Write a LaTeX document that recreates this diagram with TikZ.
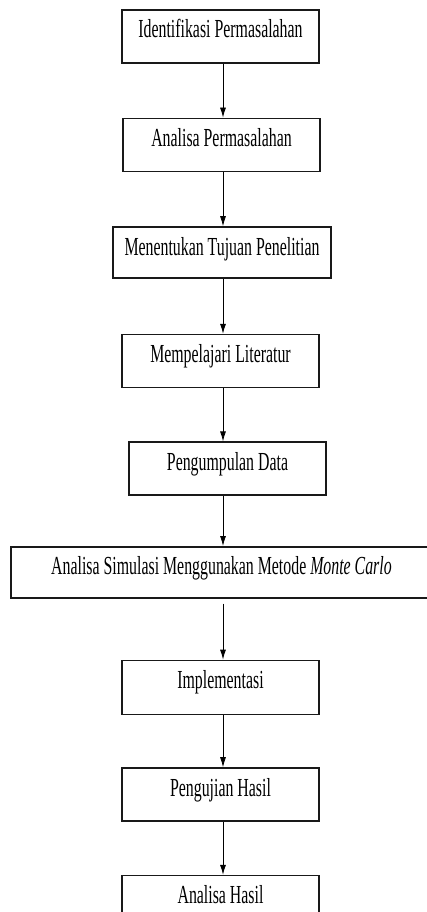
\documentclass[tikz,border=0pt]{standalone}
\usepackage{fontspec}
\setmainfont{Liberation Serif}[FakeStretch=0.61]
\usetikzlibrary{positioning,arrows.meta}

\begin{document}
\begin{tikzpicture}[
    x=1pt, y=1pt,
    node distance=53pt,
    stepbox/.style={rectangle, draw=black!90, line width=1.6pt, minimum width=197pt, inner xsep=0pt, inner ysep=0pt, text height=28pt, text depth=25pt, font=\fontsize{26}{30}\selectfont},
    arrow/.style={-{Latex[length=10pt,width=6pt]}, line width=0.8pt}
]
\clip (0,0) rectangle (427,-912);

% Steps
\node[stepbox, anchor=north] (identifikasi) at (220.5,-9) {Identifikasi Permasalahan};
\node[stepbox, below=54pt of identifikasi, xshift=1pt] (analisa) {Analisa Permasalahan};
\node[stepbox, below=54pt of analisa, xshift=0.5pt, minimum width=218pt, text depth=23pt] (tujuan) {Menentukan Tujuan Penelitian};
\node[stepbox, below=55pt of tujuan, xshift=-1.5pt] (literatur) {Mempelajari Literatur};
\node[stepbox, below=53pt of literatur, xshift=7pt] (data) {Pengumpulan Data};
\node[stepbox, below=50pt of data, xshift=-6pt, minimum width=421pt, text depth=23pt] (simulasi) {Analisa Simulasi Menggunakan Metode \textit{Monte Carlo}};
\node[stepbox, below=61pt of simulasi, xshift=-1pt, text depth=26pt] (implementasi) {Implementasi};
\node[stepbox, below=52pt of implementasi] (pengujian) {Pengujian Hasil};
\node[stepbox, below=53pt of pengujian] (hasil) {Analisa Hasil};

% Arrows
\coordinate (axis) at (223,0);
\draw[arrow] (identifikasi.south -| axis) -- (analisa.north -| axis);
\draw[arrow] (analisa.south -| axis) -- (tujuan.north -| axis);
\draw[arrow] (tujuan.south -| axis) -- (literatur.north -| axis);
\draw[arrow] (literatur.south -| axis) -- (data.north -| axis);
\draw[arrow] (data.south -| axis) -- (simulasi.north -| axis);
\draw[arrow, shorten <=5pt] (simulasi.south -| axis) -- (implementasi.north -| axis);
\draw[arrow] (implementasi.south -| axis) -- (pengujian.north -| axis);
\draw[arrow] (pengujian.south -| axis) -- (hasil.north -| axis);

\end{tikzpicture}
\end{document}
